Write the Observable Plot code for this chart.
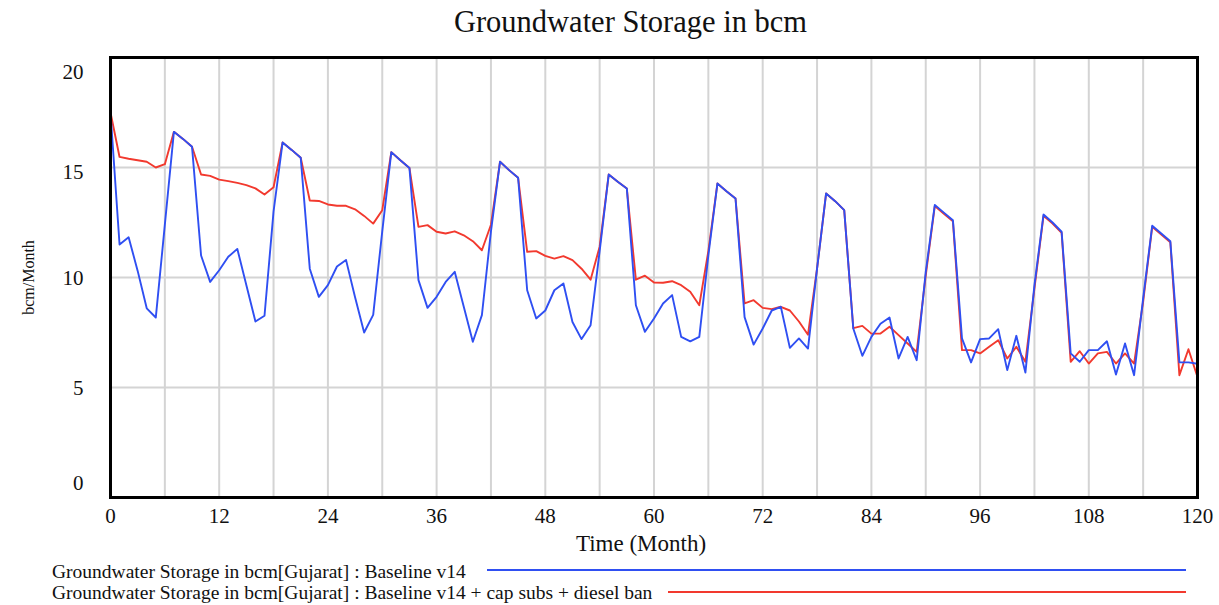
<!DOCTYPE html>
<html>
<head>
<meta charset="utf-8">
<script src="https://cdn.jsdelivr.net/npm/d3@7"></script>
<script src="https://cdn.jsdelivr.net/npm/@observablehq/plot@0.6"></script>
<style>
  html, body { margin: 0; padding: 0; background: #fff; }
  #wrap { width: 1219px; height: 605px; position: relative; font-family: "Liberation Serif", "Times New Roman", serif; color: #111; }
  #title { height: 47px; line-height: 44px; font-size: 30.5px; text-align: center; padding-left: 42px; box-sizing: border-box; }
  #legend { position: relative; height: 48px; font-size: 19.5px; }
  .lg { position: absolute; left: 52px; white-space: nowrap; line-height: 20px; }
  .ln { position: absolute; height: 2px; }
</style>
</head>
<body>
<div id="wrap">
  <div id="title">Groundwater Storage in bcm</div>
  <div id="chart"></div>
  <div id="legend"></div>
</div>
<script>
const chartTitle = "Groundwater Storage in bcm";
const xLabel = "Time (Month)";
const yLabel = "bcm/Month";
const xTicks = [0, 12, 24, 36, 48, 60, 72, 84, 96, 108, 120];
const yTicks = [0, 5, 10, 15, 20];
const xGrid = [6, 12, 18, 24, 30, 36, 42, 48, 54, 60, 66, 72, 78, 84, 90, 96, 102, 108, 114];
const yGrid = [5, 10, 15];
const seriesNames = [
  "Groundwater Storage in bcm[Gujarat] : Baseline v14",
  "Groundwater Storage in bcm[Gujarat] : Baseline v14 + cap subs + diesel ban"
];
const seriesColors = ["#2f4ff2", "#f2392e"];

const months = d3.range(0, 121);
const baseline = [
  17.5, 11.5, 11.83, 10.3, 8.6, 8.18, 12.4, 16.62, 16.3, 15.94,
  11.0, 9.8, 10.33, 10.94, 11.3, 9.65, 8.0, 8.26, 13.0, 16.14,
  15.8, 15.44, 10.4, 9.12, 9.65, 10.5, 10.8, 9.1, 7.5, 8.3,
  12.1, 15.7, 15.33, 14.98, 9.88, 8.62, 9.12, 9.8, 10.26, 8.67,
  7.08, 8.29, 12.1, 15.26, 14.88, 14.53, 9.42, 8.14, 8.5, 9.42,
  9.73, 7.98, 7.2, 7.83, 11.2, 14.68, 14.35, 14.05, 8.74, 7.53,
  8.14, 8.82, 9.2, 7.3, 7.1, 7.3, 11.0, 14.27, 13.92, 13.59,
  8.2, 6.95, 7.68, 8.5, 8.67, 6.8, 7.23, 6.77, 10.4, 13.82,
  13.47, 13.06, 7.68, 6.44, 7.3, 7.9, 8.18, 6.32, 7.3, 6.24,
  10.26, 13.3, 12.95, 12.6, 7.23, 6.14, 7.2, 7.23, 7.65, 5.79,
  7.35, 5.68, 9.65, 12.86, 12.5, 12.08, 6.55, 6.17, 6.7, 6.7,
  7.1, 5.59, 7.0, 5.56, 9.05, 12.35, 12.0, 11.65, 6.14, 6.14,
  6.08
];
const policy = [
  17.5, 15.48, 15.4, 15.33, 15.26, 15.0, 15.15, 16.62, 16.3, 15.94,
  14.68, 14.62, 14.45, 14.38, 14.3, 14.2, 14.05, 13.77, 14.1, 16.14,
  15.8, 15.44, 13.5, 13.48, 13.32, 13.26, 13.26, 13.1, 12.8, 12.45,
  13.06, 15.7, 15.33, 14.98, 12.3, 12.38, 12.08, 12.0, 12.1, 11.92,
  11.65, 11.24, 12.4, 15.26, 14.88, 14.53, 11.17, 11.2, 10.98, 10.86,
  10.97, 10.79, 10.4, 9.9, 11.4, 14.68, 14.35, 14.05, 9.9, 10.08,
  9.77, 9.76, 9.83, 9.65, 9.35, 8.74, 11.2, 14.27, 13.92, 13.59,
  8.82, 8.97, 8.62, 8.56, 8.67, 8.5, 8.0, 7.4, 10.4, 13.82,
  13.47, 13.06, 7.7, 7.8, 7.45, 7.45, 7.76, 7.38, 7.0, 6.62,
  10.1, 13.25, 12.9, 12.55, 6.7, 6.7, 6.55, 6.85, 7.15, 6.32,
  6.85, 6.17, 9.5, 12.8, 12.45, 12.03, 6.17, 6.65, 6.09, 6.55,
  6.62, 6.09, 6.55, 6.09, 8.9, 12.3, 11.95, 11.6, 5.56, 6.74,
  5.48
];

document.getElementById("title").textContent = chartTitle;

const rows = (vals, s) => months.map((m, i) => ({month: m, value: vals[i], series: s}));
const dBase = rows(baseline, seriesNames[0]);
const dPol = rows(policy, seriesNames[1]);

const font = "Liberation Serif";
const yOffset = v => v === 20 ? 15 : v === 0 ? -14 : v === 15 ? 5 : 1;

const plot = Plot.plot({
  width: 1219,
  height: 510,
  marginTop: 10,
  marginLeft: 110,
  marginRight: 22,
  marginBottom: 60,
  style: {fontFamily: font, background: "#fff", color: "#111"},
  x: {domain: [0, 120], axis: null},
  y: {domain: [0, 20], axis: null},
  marks: [
    Plot.ruleX(xGrid, {stroke: "#d4d4d4", strokeWidth: 2}),
    Plot.ruleY(yGrid, {stroke: "#d4d4d4", strokeWidth: 2}),
    Plot.lineY(dPol, {x: "month", y: "value", stroke: seriesColors[1], strokeWidth: 1.9}),
    Plot.lineY(dBase, {x: "month", y: "value", stroke: seriesColors[0], strokeWidth: 1.9}),
    Plot.frame({stroke: "#000", strokeWidth: 3}),
    ...yTicks.map(v => Plot.text([v], {
      x: 0, y: d => d, text: d => String(d), dx: -27, dy: yOffset(v),
      textAnchor: "end", fontSize: 21, fill: "#111"
    })),
    Plot.text(xTicks, {x: d => d, y: 0, text: d => String(d), dy: 19, fontSize: 21, fill: "#111"}),
    Plot.text([xLabel], {x: 60, y: 0, text: d => d, dx: -13, dy: 46, fontSize: 23, fill: "#111"}),
    Plot.text([yLabel], {x: 0, y: 10, text: d => d, dx: -82, rotate: -90, fontSize: 16, fill: "#111"})
  ]
});
document.getElementById("chart").appendChild(plot);

// legend
const legend = document.getElementById("legend");
const lineStarts = [487, 668];
seriesNames.forEach((name, i) => {
  const t = document.createElement("div");
  t.className = "lg";
  t.style.top = (5 + i * 21) + "px";
  t.textContent = name;
  legend.appendChild(t);
  const l = document.createElement("div");
  l.className = "ln";
  l.style.background = seriesColors[i];
  l.style.left = lineStarts[i] + "px";
  l.style.width = (1186 - lineStarts[i]) + "px";
  l.style.top = (12 + i * 22) + "px";
  legend.appendChild(l);
});
</script>
</body>
</html>
